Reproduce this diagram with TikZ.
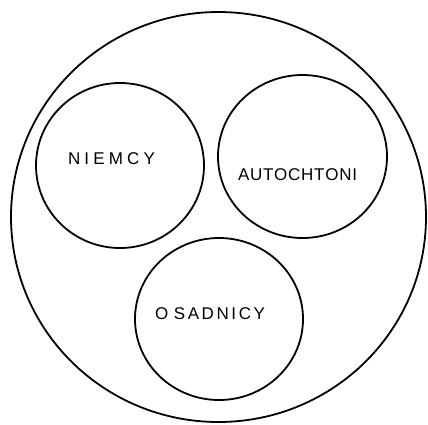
\documentclass[tikz,border=0pt]{standalone}
\usepackage{fontspec}
\setmainfont{Liberation Sans}
\usetikzlibrary{shapes.geometric}
\begin{document}
\begin{tikzpicture}[x=1pt,y=-1pt,
  ring/.style={draw=black,line width=1.8pt,ellipse,inner sep=0pt},
  lab/.style={inner sep=0pt,font=\fontsize{17}{18}\selectfont}]
\useasboundingbox (0,0) rectangle (428,424);
\node[ring,minimum width=415pt,minimum height=410pt] (all) at (218.5,217) {};
\node[ring,minimum width=168pt,minimum height=165pt] (nie) at (120,165.5) {};
\node[ring,minimum width=169pt,minimum height=163pt] (aut) at (302.5,156.5) {};
\node[ring,minimum width=168pt,minimum height=162pt] (osa) at (219,319) {};
\node[lab] (tnie) at (111.5,158.5) {\makebox[87pt][s]{N\hfill I\hfill E\hfill M\hfill C\hfill Y}};
\node[lab] (taut) at (297.5,174.5) {\makebox[119pt][s]{A\hfill U\hfill T\hfill O\hfill C\hfill H\hfill T\hfill O\hfill N\hfill I}};
\node[lab] (tosa) at (210,313.5) {\makebox[110pt][s]{O\hspace{3pt}\hfill S\hfill A\hfill D\hfill N\hfill I\hfill C\hfill Y}};
\end{tikzpicture}
\end{document}
